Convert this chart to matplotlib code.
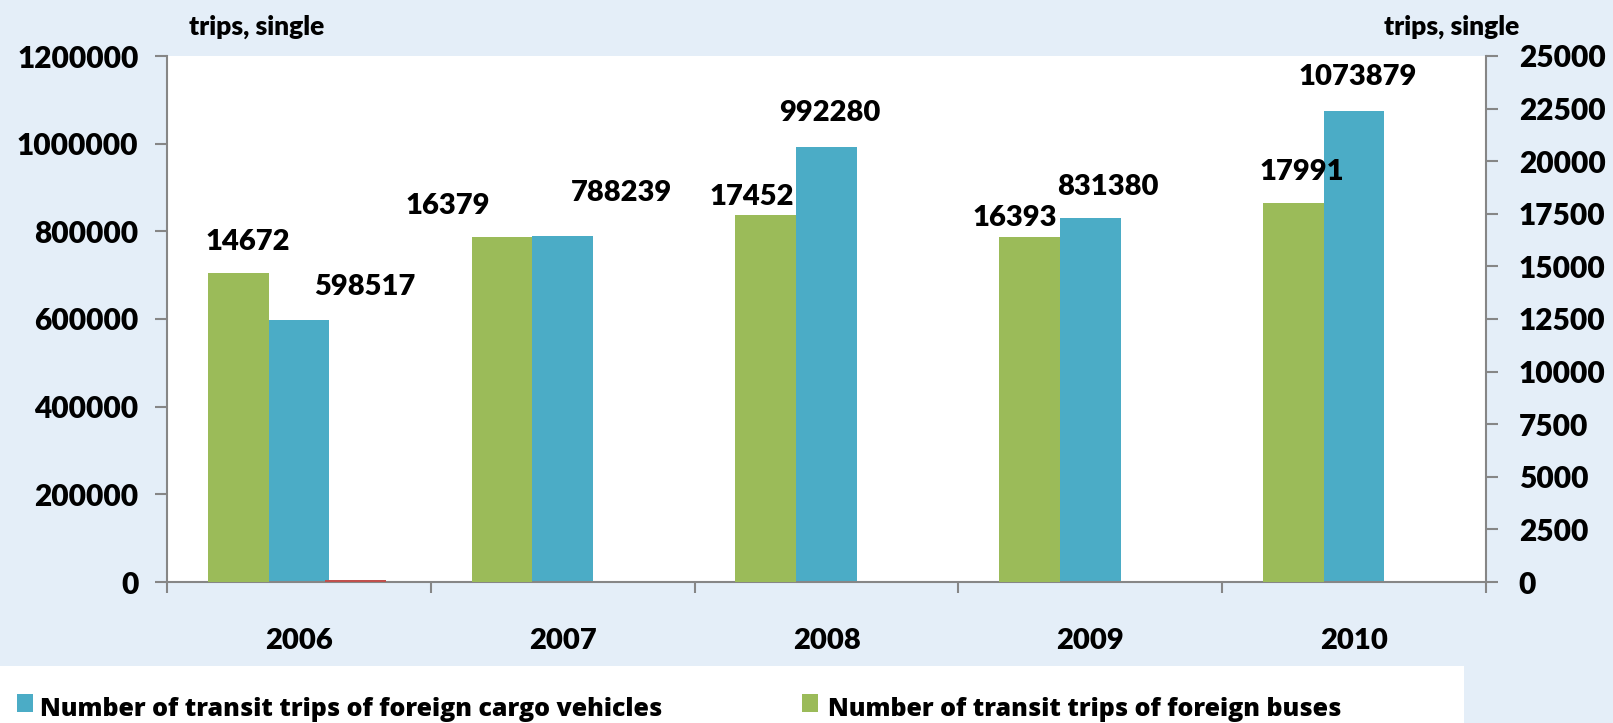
import matplotlib.pyplot as plt
import numpy as np
from matplotlib.patches import Rectangle

years = ["2006", "2007", "2008", "2009", "2010"]
cargo_trips = [598517, 788239, 992280, 831380, 1073879]
bus_trips = [14672, 16379, 17452, 16393, 17991]
other_trips = [4000, 0, 0, 0, 0]

left_ticks = [0, 200000, 400000, 600000, 800000, 1000000, 1200000]
right_ticks = [0, 2500, 5000, 7500, 10000, 12500, 15000, 17500, 20000, 22500, 25000]

# label offsets (pixels) from the bar top, as placed in the original
cargo_offsets = [(66, 33), (59, 43), (3, 34), (18, 31), (4, 34)]
bus_offsets = [(10, 31), (-54, 31), (-14, 18), (-15, 19), (8, 31)]

bg = "#E4EEF8"
blue = "#4BACC6"
green = "#9BBB59"
red = "#C0504D"
grey = "#868686"

plt.rcParams["font.family"] = ["Lato", "DejaVu Sans"]
plt.rcParams["font.weight"] = "heavy"

fig = plt.figure(figsize=(16.13, 7.23), dpi=100, facecolor=bg)
ax = fig.add_axes([167 / 1613, 141 / 723, 1319 / 1613, 526 / 723])
ax2 = ax.twinx()

x = np.arange(len(years))
w = 0.23
bars_bus = ax2.bar(x - w, bus_trips, w, color=green, zorder=2)
bars_cargo = ax.bar(x, cargo_trips, w, color=blue, zorder=2)
ax.bar(x + 0.215, other_trips, w, color=red, zorder=3)

ax.set_xlim(-0.5, len(years) - 0.5)
ax.set_ylim(0, 1200000)
ax2.set_ylim(0, 25000)

ax.set_yticks(left_ticks, [str(t) for t in left_ticks])
ax2.set_yticks(right_ticks, [str(t) for t in right_ticks])
ax.set_xticks(x, years)
ax.set_xticks(np.arange(len(years) + 1) - 0.5, minor=True)

ax.tick_params(axis="y", labelsize=21.5, length=8.5, width=1.5, color=grey, pad=12)
ax2.tick_params(axis="y", labelsize=21.5, length=8.5, width=1.5, color=grey, pad=15)
ax.tick_params(axis="x", which="major", labelsize=21, length=0, pad=33)
ax.tick_params(axis="x", which="minor", length=8, width=1.5, color=grey)

for a in (ax, ax2):
    a.spines["top"].set_visible(False)
    for s in a.spines.values():
        s.set_color(grey)
        s.set_linewidth(1.5)
ax.spines["right"].set_visible(False)
ax2.spines["left"].set_visible(False)
ax2.spines["bottom"].set_visible(False)

for b, v, (dx, dy) in zip(bars_cargo, cargo_trips, cargo_offsets):
    ax.annotate(str(v), (b.get_x() + b.get_width() / 2, v), xytext=(dx, dy),
                textcoords="offset pixels", ha="center", va="center", fontsize=21)
for b, v, (dx, dy) in zip(bars_bus, bus_trips, bus_offsets):
    ax2.annotate(str(v), (b.get_x() + b.get_width() / 2, v), xytext=(dx, dy),
                 textcoords="offset pixels", ha="center", va="center", fontsize=21)

fig.text(189 / 1613, 1 - 35 / 723, "trips, single", fontsize=19, ha="left", va="baseline")
fig.text(1519 / 1613, 1 - 35 / 723, "trips, single", fontsize=19, ha="right", va="baseline")

# legend strip at the bottom
fig.patches.append(Rectangle((0, 0), 1464 / 1613, 57 / 723, transform=fig.transFigure,
                             facecolor="white", edgecolor="none", zorder=0))
fig.patches.append(Rectangle((17 / 1613, 1 - 712 / 723), 16 / 1613, 18 / 723,
                             transform=fig.transFigure, facecolor=blue, edgecolor="none"))
fig.patches.append(Rectangle((802 / 1613, 1 - 712 / 723), 16 / 1613, 18 / 723,
                             transform=fig.transFigure, facecolor=green, edgecolor="none"))
fig.text(40 / 1613, 1 - 716 / 723, "Number of transit trips of foreign cargo vehicles",
         fontsize=18, family=["Open Sans", "DejaVu Sans"], ha="left", va="baseline")
fig.text(828 / 1613, 1 - 716 / 723, "Number of transit trips of foreign buses",
         fontsize=18, family=["Open Sans", "DejaVu Sans"], ha="left", va="baseline")

fig.savefig("out.png", dpi=100, facecolor=bg)
